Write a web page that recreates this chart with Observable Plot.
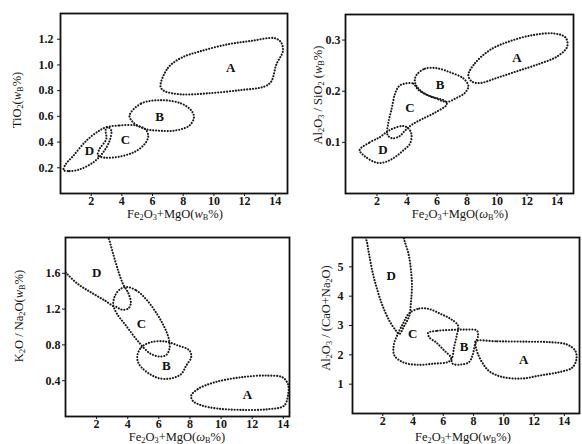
<!DOCTYPE html>
<html><head><meta charset="utf-8">
<script src="https://cdn.jsdelivr.net/npm/d3@7"></script>
<script src="https://cdn.jsdelivr.net/npm/@observablehq/plot@0.6"></script>
<style>
body{margin:0;background:#fff;}
#root{position:relative;width:582px;height:444px;overflow:hidden;font-family:"Liberation Serif","Times New Roman",serif;color:#161616;background:#fff;}
.panel{position:absolute;}
.lab{position:absolute;font-size:12.5px;white-space:nowrap;line-height:1;}
.ylab{transform:translate(-50%,-50%) rotate(-90deg);}
.xlab{transform:translate(-50%,-50%);}
sub{font-size:66%;vertical-align:-0.3em;line-height:0;}
</style></head><body><div id="root"></div>
<script>
// ---------- data ----------
const xTicks = [2, 4, 6, 8, 10, 12, 14];

// Panel 1: TiO2 vs Fe2O3+MgO
const p1Ticks = [0.2, 0.4, 0.6, 0.8, 1.0, 1.2];
const p1A = [[6.52,0.832],[7.0,0.976],[7.87,1.055],[9.17,1.108],[10.9,1.16],[12.43,1.187],[13.96,1.208],[14.39,1.174],[14.5,1.108],[14.07,1.003],[13.74,0.871],[13.3,0.832],[11.78,0.805],[9.6,0.779],[7.87,0.771],[6.78,0.797]];
const p1B = [[4.5,0.608],[5.26,0.7],[6.57,0.726],[7.87,0.7],[8.52,0.647],[8.7,0.595],[8.41,0.529],[7.43,0.489],[6.35,0.489],[5.48,0.503],[4.72,0.555]];
const p1C = [[2.98,0.508],[3.85,0.529],[4.94,0.529],[5.55,0.498],[5.72,0.445],[5.48,0.384],[4.83,0.324],[3.85,0.287],[2.87,0.279],[2.44,0.297],[2.54,0.345],[2.98,0.423]];
const p1D = [[0.2,0.182],[0.59,0.174],[1.24,0.187],[2.11,0.24],[2.77,0.318],[3.2,0.41],[3.31,0.49],[3.09,0.516],[2.54,0.49],[1.68,0.41],[0.81,0.29],[0.33,0.226]];
const p1Labels = [{t:"A",x:11.1,y:0.976},{t:"B",x:6.46,y:0.595},{t:"C",x:4.24,y:0.419},{t:"D",x:1.89,y:0.332}];

// Panel 2: Al2O3/SiO2 vs Fe2O3+MgO
const p2Ticks = [0.1, 0.2, 0.3];
const p2A = [[8.09,0.232],[8.54,0.255],[9.55,0.281],[10.88,0.298],[12.44,0.31],[13.78,0.313],[14.57,0.305],[14.68,0.287],[14.01,0.268],[12.67,0.252],[11.33,0.239],[9.99,0.226],[8.88,0.216],[8.32,0.219]];
const p2B = [[4.64,0.232],[5.19,0.244],[5.98,0.245],[6.87,0.237],[7.76,0.225],[8.09,0.21],[7.87,0.197],[7.31,0.187],[6.65,0.179],[5.86,0.187],[5.08,0.197],[4.64,0.21],[4.52,0.221]];
const p2C = [[3.63,0.213],[4.41,0.215],[4.75,0.203],[5.53,0.19],[6.53,0.181],[6.65,0.174],[5.86,0.158],[4.97,0.145],[4.3,0.134],[3.9,0.124],[3.5,0.112],[3.0,0.108],[2.7,0.115],[2.74,0.136],[2.97,0.165],[3.19,0.194],[3.41,0.208]];
const p2D = [[0.84,0.085],[1.51,0.1],[2.18,0.11],[2.63,0.12],[3.07,0.127],[3.74,0.132],[4.1,0.127],[4.3,0.115],[4.19,0.097],[3.74,0.084],[3.19,0.071],[2.6,0.062],[2.0,0.06],[1.18,0.073]];
const p2Labels = [{t:"A",x:11.33,y:0.265},{t:"B",x:6.2,y:0.213},{t:"C",x:4.19,y:0.168},{t:"D",x:2.4,y:0.085}];

// Panel 3: K2O/Na2O vs Fe2O3+MgO
const p3Ticks = [0.4, 0.8, 1.2, 1.6];
const p3A = [[8.08,0.232],[8.5,0.306],[9.57,0.381],[11.27,0.438],[12.98,0.457],[13.94,0.438],[14.3,0.362],[14.3,0.232],[14.04,0.119],[12.98,0.081],[11.27,0.074],[9.78,0.089],[8.71,0.126],[8.18,0.176]];
const p3B = [[4.62,0.682],[4.88,0.775],[5.52,0.831],[6.37,0.839],[7.22,0.794],[7.97,0.738],[8.08,0.663],[7.76,0.569],[7.44,0.475],[6.8,0.426],[6.05,0.426],[5.41,0.475],[4.88,0.55],[4.67,0.606]];
const p3C = [[3.92,1.447],[4.56,1.408],[5.2,1.307],[5.84,1.157],[6.33,1.008],[6.63,0.876],[6.69,0.764],[6.48,0.688],[6.05,0.67],[5.41,0.708],[4.67,0.839],[3.92,1.008],[3.28,1.157],[3.07,1.251],[3.17,1.345],[3.49,1.42]];
const p3D1 = [[2.53,2.07],[2.75,2.0],[3.07,1.813],[3.39,1.626],[3.71,1.476],[4.03,1.382],[4.2,1.27],[4.03,1.206],[3.6,1.195],[3.22,1.232]];
const p3D2 = [[-0.35,1.683],[0.083,1.596],[0.83,1.476],[1.68,1.382],[2.53,1.296],[3.07,1.232]];
const p3Labels = [{t:"A",x:11.7,y:0.239},{t:"B",x:6.48,y:0.561},{t:"C",x:4.88,y:1.04},{t:"D",x:2.0,y:1.6}];

// Panel 4: Al2O3/(CaO+Na2O) vs Fe2O3+MgO
const p4Ticks = [1, 2, 3, 4, 5];
const p4A = [[8.14,2.46],[9.57,2.46],[11.32,2.45],[13.08,2.43],[14.18,2.35],[14.73,2.13],[14.79,1.84],[14.51,1.56],[13.74,1.42],[12.42,1.3],[11.11,1.19],[9.79,1.26],[9.02,1.45],[8.58,1.73],[8.26,2.07],[8.14,2.29]];
const p4B = [[5.0,2.75],[5.62,2.82],[6.5,2.85],[7.37,2.86],[8.21,2.83],[8.3,2.66],[8.08,2.32],[7.93,1.98],[7.7,1.75],[7.16,1.67],[6.61,1.7],[6.5,1.92],[6.06,2.15],[5.51,2.43],[5.07,2.6]];
const p4C = [[3.75,3.42],[4.41,3.58],[5.07,3.56],[5.84,3.39],[6.5,3.22],[6.98,2.99],[6.89,2.66],[6.71,2.26],[6.56,1.87],[6.28,1.75],[5.4,1.7],[4.31,1.66],[3.32,1.75],[2.77,1.98],[2.72,2.32],[2.99,2.71],[3.32,3.05],[3.54,3.27]];
const p4D = [[0.84,6.26],[0.97,5.81],[1.12,5.36],[1.34,4.79],[1.63,4.23],[1.99,3.67],[2.44,3.16],[2.88,2.82],[3.09,2.71],[3.42,2.99],[3.75,3.33],[3.86,3.78],[3.93,4.34],[3.86,4.91],[3.69,5.47],[3.42,5.92],[3.32,6.26]];
const p4Labels = [{t:"A",x:11.32,y:1.84},{t:"B",x:7.37,y:2.26},{t:"C",x:3.98,y:2.72},{t:"D",x:2.55,y:4.71}];

const xLabels = ["Fe<sub>2</sub>O<sub>3</sub>+MgO(<i>w</i><sub>B</sub>%)","Fe<sub>2</sub>O<sub>3</sub>+MgO(<i>ω</i><sub>B</sub>%)","Fe<sub>2</sub>O<sub>3</sub>+MgO(<i>ω</i><sub>B</sub>%)","Fe<sub>2</sub>O<sub>3</sub>+MgO(<i>w</i><sub>B</sub>%)"];
const yLabels = ["TiO<sub>2</sub>(<i>w</i><sub>B</sub>%)","Al<sub>2</sub>O<sub>3</sub> / SiO<sub>2</sub> (<i>w</i><sub>B</sub>%)","K<sub>2</sub>O / Na<sub>2</sub>O(<i>w</i><sub>B</sub>%)","Al<sub>2</sub>O<sub>3</sub> / (CaO+Na<sub>2</sub>O)"];

// ---------- drawing ----------
const root = document.getElementById("root");
const dot = {x: d => d[0], y: d => d[1], stroke: "#1a1a1a", strokeWidth: 2.1, strokeDasharray: "0.1 2.8", strokeLinecap: "round", clip: true};

function panel(cfg) {
  const marks = [Plot.frame({stroke: "#111", strokeWidth: 1.8})];
  for (const r of cfg.closed) marks.push(Plot.line(r, {...dot, curve: "catmull-rom-closed"}));
  for (const r of (cfg.open || [])) marks.push(Plot.line(r, {...dot, curve: "catmull-rom"}));
  marks.push(Plot.text(cfg.labels, {x: "x", y: "y", text: "t", fontSize: 13, fontWeight: "bold", fill: "#111"}));
  const svg = Plot.plot({
    width: cfg.w, height: cfg.h,
    marginLeft: cfg.ml, marginRight: cfg.mr, marginTop: cfg.mt, marginBottom: cfg.mb,
    style: {fontFamily: "'Liberation Serif', serif", fontSize: "12px", fontWeight: "bold", color: "#161616", background: "transparent", overflow: "visible"},
    x: {domain: cfg.xd, ticks: xTicks, tickSize: 3, tickPadding: 0, label: null, tickFormat: d => String(d)},
    y: {domain: cfg.yd, ticks: cfg.yt, tickSize: 3, tickPadding: cfg.ypad, label: null, tickFormat: cfg.fmt},
    marks
  });
  const div = document.createElement("div");
  div.className = "panel";
  div.style.left = cfg.left + "px"; div.style.top = cfg.top + "px";
  div.appendChild(svg);
  root.appendChild(div);
  const xl = document.createElement("div");
  xl.className = "lab xlab"; xl.innerHTML = cfg.xlab;
  xl.style.left = cfg.xlx + "px"; xl.style.top = cfg.xly + "px";
  root.appendChild(xl);
  const yl = document.createElement("div");
  yl.className = "lab ylab"; yl.innerHTML = cfg.ylab;
  yl.style.left = cfg.ylx + "px"; yl.style.top = cfg.yly + "px";
  root.appendChild(yl);
}

const f1 = d3.format(".1f");
panel({left: 0, top: 0, w: 291, h: 222, ml: 60, mr: 4, mt: 13, mb: 29, xd: [0, 14.8], yd: [0, 1.4], yt: p1Ticks, fmt: f1, ypad: 4,
  closed: [p1A, p1B, p1C, p1D], labels: p1Labels, xlab: xLabels[0], xlx: 175, xly: 214, ylab: yLabels[0], ylx: 17, yly: 100});
panel({left: 291, top: 0, w: 291, h: 222, ml: 54, mr: 9, mt: 14, mb: 29, xd: [-0.1, 15.1], yd: [0, 0.35], yt: p2Ticks, fmt: f1, ypad: 2,
  closed: [p2A, p2B, p2C, p2D], labels: p2Labels, xlab: xLabels[1], xlx: 460, xly: 214, ylab: yLabels[1], ylx: 318, yly: 95});
panel({left: 0, top: 222, w: 291, h: 222, ml: 65, mr: 2, mt: 15, mb: 28, xd: [0, 14.4], yd: [0, 2.0], yt: p3Ticks, fmt: f1, ypad: 2,
  closed: [p3A, p3B, p3C], open: [p3D1, p3D2], labels: p3Labels, xlab: xLabels[2], xlx: 177, xly: 437, ylab: yLabels[2], ylx: 19, yly: 316});
panel({left: 291, top: 222, w: 291, h: 222, ml: 61, mr: 3, mt: 15, mb: 31, xd: [0, 15], yd: [0, 6], yt: p4Ticks, fmt: d3.format("d"), ypad: 6,
  closed: [p4A, p4B, p4C, p4D], labels: p4Labels, xlab: xLabels[3], xlx: 463, xly: 437, ylab: yLabels[3], ylx: 326, yly: 318});
</script>
</body></html>
